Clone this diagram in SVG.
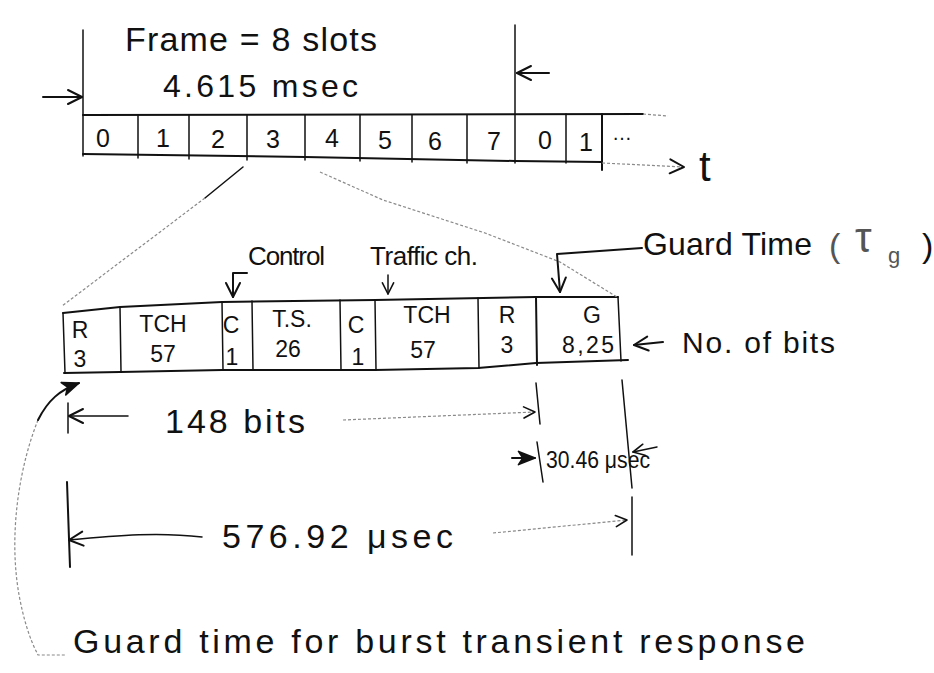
<svg xmlns="http://www.w3.org/2000/svg" width="934" height="673" viewBox="0 0 934 673">
<style>
.ln{stroke:#111;stroke-width:2;fill:none;stroke-linecap:round;stroke-linejoin:round}
.th{stroke:#111;stroke-width:1.5;fill:none;stroke-linecap:round;stroke-linejoin:round}
.fa{stroke:#8a8a8a;stroke-width:1.2;fill:none;stroke-dasharray:3 2}
.t{font-family:"Liberation Sans",Arial,sans-serif;fill:#111}
.d{font-size:25px;text-anchor:middle}
.s{font-size:23px;text-anchor:middle}
.gr{fill:#555}
</style>
<defs>
<marker id="v" viewBox="0 0 20 20" refX="18" refY="10" markerWidth="20" markerHeight="20" markerUnits="userSpaceOnUse" orient="auto">
<path d="M4 3 L18 10 L4 17" fill="none" stroke="#111" stroke-width="2" stroke-linecap="round" stroke-linejoin="round"/>
</marker>
<marker id="vs" viewBox="0 0 20 20" refX="18" refY="10" markerWidth="16" markerHeight="16" markerUnits="userSpaceOnUse" orient="auto">
<path d="M4 3 L18 10 L4 17" fill="none" stroke="#111" stroke-width="2" stroke-linecap="round" stroke-linejoin="round"/>
</marker>
<marker id="f" viewBox="0 0 20 20" refX="18" refY="10" markerWidth="22" markerHeight="22" markerUnits="userSpaceOnUse" orient="auto">
<path d="M3 4 L18 10 L3 16 L7 10 Z" fill="#111" stroke="#111" stroke-width="1.5" stroke-linejoin="round"/>
</marker>
</defs>

<g id="frame">
<path class="ln" d="M83 115 L643 114"/>
<path class="fa" d="M643 114 L668 116"/>
<path class="ln" d="M83 154 L305 157 L515 161 L602 162"/>
<path class="th" d="M83 30 L83 156"/>
<path class="th" d="M138 115 L138 158 M189 115 L189 159 M247 115 L247 160 M305 115 L305 160 M360 115 L360 161 M412 115 L412 162 M467 115 L467 163 M566 114 L566 163"/>
<path class="th" d="M515 25 L515 163"/>
<path class="ln" d="M602 114 L602 170"/>
<text class="t d" x="103" y="147">0</text>
<text class="t d" x="163" y="147">1</text>
<text class="t d" x="218" y="148">2</text>
<text class="t d" x="273" y="148">3</text>
<text class="t d" x="332" y="147">4</text>
<text class="t d" x="385" y="149">5</text>
<text class="t d" x="435" y="150">6</text>
<text class="t d" x="494" y="150">7</text>
<text class="t d" x="545" y="149">0</text>
<text class="t d" x="586" y="151">1</text>
<text class="t" x="612" y="140" font-size="20">…</text>
<text class="t" x="699" y="181" font-size="42">t</text>
</g>

<g id="frame-label">
<text class="t" x="125" y="51" font-size="34" textLength="252" lengthAdjust="spacing">Frame = 8 slots</text>
<text class="t" x="163" y="97" font-size="32" textLength="195" lengthAdjust="spacing">4.615 msec</text>
</g>

<g id="burst">
<path class="ln" d="M63 313 L120 307 L222 302 L375 300 L536 297 L618 297"/>
<path class="ln" d="M64 373 L120 372 L222 370 L375 370 L478 368 L536 363 L628 360"/>
<path class="th" d="M63 313 L65 373 M618 297 L621 361"/>
<path class="th" d="M120 307 L121 372 M222 302 L223 370 M252 301 L253 370 M340 300 L341 370 M375 300 L376 370 M478 298 L479 368"/>
<path class="ln" d="M536 297 L537 365"/>
<text class="t s" x="80" y="338">R</text>
<text class="t s" x="80" y="367">3</text>
<text class="t s" x="163" y="332">TCH</text>
<text class="t s" x="163" y="362">57</text>
<text class="t s" x="231" y="333">C</text>
<text class="t s" x="232" y="365">1</text>
<text class="t s" x="292" y="327">T.S.</text>
<text class="t s" x="288" y="357">26</text>
<text class="t s" x="356" y="333">C</text>
<text class="t s" x="358" y="365">1</text>
<text class="t s" x="427" y="323">TCH</text>
<text class="t s" x="423" y="358">57</text>
<text class="t s" x="507" y="323">R</text>
<text class="t s" x="507" y="353">3</text>
<text class="t s" x="592" y="323">G</text>
<text class="t s" x="588" y="353" textLength="52" lengthAdjust="spacing">8,25</text>
</g>

<g id="labels">
<text class="t" x="248" y="265" font-size="26" textLength="77" lengthAdjust="spacing">Control</text>
<text class="t" x="370" y="265" font-size="26" textLength="108" lengthAdjust="spacing">Traffic ch.</text>
<text class="t" x="643" y="255" font-size="32" textLength="169" lengthAdjust="spacing">Guard Time</text>
<text class="t gr" x="829" y="257" font-size="34">(</text>
<text class="t gr" x="855" y="252" font-size="42">τ</text>
<text class="t gr" x="888" y="263" font-size="22">g</text>
<text class="t" x="922" y="257" font-size="34">)</text>
<text class="t" x="682" y="353" font-size="30" textLength="153" lengthAdjust="spacing">No. of bits</text>
<text class="t" x="165" y="433" font-size="34" textLength="140" lengthAdjust="spacing">148 bits</text>
<text class="t" x="546" y="468" font-size="24" textLength="104" lengthAdjust="spacingAndGlyphs">30.46 μsec</text>
<text class="t" x="222" y="548" font-size="34" textLength="231" lengthAdjust="spacing">576.92 μsec</text>
<text class="t" x="73" y="653" font-size="34" textLength="732" lengthAdjust="spacing">Guard time for burst transient response</text>
</g>

<g id="connectors">
<path class="ln" d="M43 97 L82 97" marker-end="url(#v)"/>
<path class="ln" d="M549 73 L517 73" marker-end="url(#v)"/>
<path class="fa" d="M602 163 L684 167" marker-end="url(#v)"/>
<path class="th" d="M243 167 L205 198"/>
<path class="fa" d="M205 198 L62 306"/>
<path class="fa" d="M320 172 L383 200 L485 233 L560 262 L617 297"/>
<path class="ln" d="M247 273 L233 273 L233 297" marker-end="url(#v)"/>
<path class="th" d="M388 275 L388 294" marker-end="url(#vs)"/>
<path class="ln" d="M642 248 L557 254 L560 292" marker-end="url(#v)"/>
<path class="ln" d="M663 342 L634 345" marker-end="url(#v)"/>
<path class="th" d="M68 403 L68 433"/>
<path class="th" d="M128 416 L69 416" marker-end="url(#v)"/>
<path class="fa" d="M343 420 L535 412" marker-end="url(#vs)"/>
<path class="th" d="M536 383 L540 424"/>
<path class="ln" d="M512 458 L535 458" marker-end="url(#f)"/>
<path class="th" d="M537 442 L543 482"/>
<path class="th" d="M657 447 L633 452" marker-end="url(#vs)"/>
<path class="th" d="M622 380 L632 488 M632 497 L632 555"/>
<path class="ln" d="M67 482 L70 567"/>
<path class="th" d="M202 537 C160 532 120 535 69 540" marker-end="url(#v)"/>
<path class="fa" d="M493 533 L627 520" marker-end="url(#vs)"/>
<path class="fa" d="M38 420 C18 470 8 540 20 600 C26 630 33 645 38 655 L65 655"/>
<path class="ln" d="M38 420 C48 400 60 390 79 383" marker-end="url(#f)"/>
</g>
</svg>
